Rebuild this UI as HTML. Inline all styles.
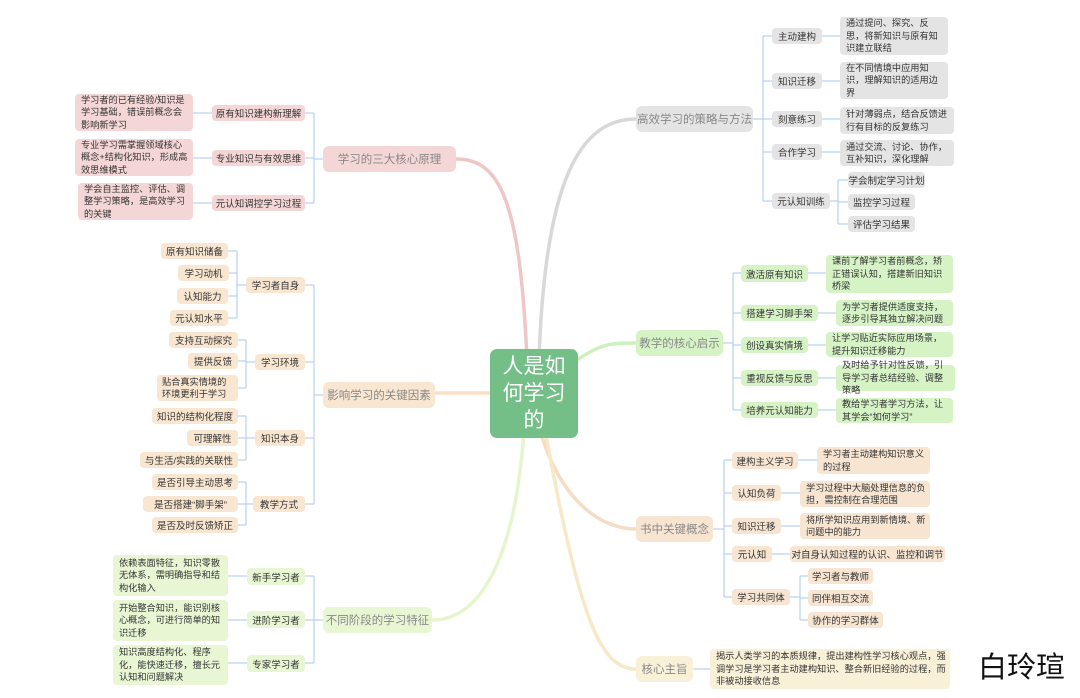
<!DOCTYPE html>
<html><head><meta charset="utf-8"><style>
body{margin:0;width:1080px;height:698px;background:#fff;position:relative;overflow:hidden;font-family:"Liberation Sans","Noto Sans CJK SC",sans-serif}
.n{position:absolute;display:flex;align-items:center;justify-content:center;border-radius:4px;font-size:9.5px;color:#333;white-space:nowrap;box-sizing:border-box}
.m{justify-content:flex-start;white-space:normal;padding:0 4px 0 6px;line-height:12.5px;font-size:9.2px}
.b{font-size:11.5px;color:#888;border-radius:6px}
.pk{background:#f5d6d6}.be{background:#f9e6d0}.lg{background:#e8f6d4}.gy{background:#e4e4e4}.gr{background:#d6f3c6}.bk{background:#f7e5d2}.co{background:#f9f0d8}
svg{position:absolute;left:0;top:0}
</style></head><body>
<svg width="1080" height="698" fill="none">
<g stroke-width="3.5" stroke-linecap="round">
<path d="M527 360 C520 200,500 159,456 159" stroke="#efc6c6"/>
<path d="M539 360 C545 180,580 119,636 119" stroke="#d8d8d8"/>
<path d="M570 365 C600 343,610 343,636 343" stroke="#ccf2bc"/>
<path d="M490 393 H435" stroke="#f7e0c6"/>
<path d="M524 430 C515 560,480 620,432 620" stroke="#e6f5cc"/>
<path d="M540 430 C560 500,600 529,636 529" stroke="#f5dcc4"/>
<path d="M545 430 C580 620,600 669,636 669" stroke="#f7e8c8"/>
</g>
<g stroke="#a8c8ef" stroke-width="1">
<path d="M753 119H763M763 36V201M763 36H772M763 81H772M763 119H772M763 152H772M763 201H772"/>
<path d="M822 36H840M822 81H840M822 119H840M822 152H840M830 201H838M838 180V224M838 180H848M838 202H848M838 224H848"/>
<path d="M723 343H733M733 273V410M733 273H741M733 313H741M733 345H741M733 378H741M733 410H741"/>
<path d="M808 273H826M818 313H836M808 345H826M818 378H836M818 410H836"/>
<path d="M713 529H724M724 460V597M724 460H732M724 493H732M724 526H732M724 554H732M724 597H732"/>
<path d="M798 460H817M781 493H800M781 526H800M772 554H790M790 597H800M800 576V620M800 576H808M800 598H808M800 620H808"/>
<path d="M693 669H710"/>
<path d="M323 159H314M314 113V203M314 113H305M314 158H305M314 203H305M212 113H193M212 158H193M212 203H193"/>
<path d="M323 395H314M314 285V504M314 285H305M314 362H305M314 438H305M314 504H305"/>
<path d="M246 285H237M237 251V318M237 251H228M237 273H229M237 296H228M237 318H228"/>
<path d="M255 362H246M246 340V388M246 340H238M246 361H238M246 388H238"/>
<path d="M255 438H246M246 416V460M246 416H238M246 438H238M246 460H238"/>
<path d="M253 504H246M246 482V525M246 482H238M246 504H238M246 525H238"/>
<path d="M323 620H314M314 576V663M314 576H305M314 620H305M314 663H305M247 576H228M247 620H228M247 663H228"/>
</g>
</svg>

<div class="n" style="left:490px;top:349px;width:88px;height:89px;background:#74be88;color:#fff;font-size:21px;line-height:27px;border-radius:7px;white-space:normal;text-align:center;padding:0 11px">人是如何学习的</div>

<div class="n b pk" style="left:323px;top:146px;width:133px;height:26px">学习的三大核心原理</div>
<div class="n b be" style="left:323px;top:382px;width:112px;height:26px">影响学习的关键因素</div>
<div class="n b lg" style="left:323px;top:607px;width:109px;height:26px">不同阶段的学习特征</div>
<div class="n b gy" style="left:636px;top:106px;width:117px;height:26px">高效学习的策略与方法</div>
<div class="n b gr" style="left:636px;top:330px;width:87px;height:26px">教学的核心启示</div>
<div class="n b bk" style="left:636px;top:516px;width:77px;height:26px">书中关键概念</div>
<div class="n b co" style="left:636px;top:656px;width:57px;height:26px">核心主旨</div>

<div class="n pk" style="left:212px;top:105px;width:93px;height:16px">原有知识建构新理解</div>
<div class="n pk" style="left:212px;top:150px;width:93px;height:16px">专业知识与有效思维</div>
<div class="n pk" style="left:212px;top:195px;width:93px;height:16px">元认知调控学习过程</div>
<div class="n m pk" style="left:75px;top:94px;width:118px;height:37px">学习者的已有经验/知识是学习基础，错误前概念会影响新学习</div>
<div class="n m pk" style="left:75px;top:139px;width:118px;height:37px">专业学习需掌握领域核心概念+结构化知识，形成高效思维模式</div>
<div class="n m pk" style="left:78px;top:183px;width:115px;height:37px">学会自主监控、评估、调整学习策略，是高效学习的关键</div>

<div class="n be" style="left:246px;top:277px;width:59px;height:16px">学习者自身</div>
<div class="n be" style="left:255px;top:354px;width:50px;height:16px">学习环境</div>
<div class="n be" style="left:255px;top:430px;width:50px;height:16px">知识本身</div>
<div class="n be" style="left:253px;top:496px;width:52px;height:16px">教学方式</div>
<div class="n be" style="left:161px;top:243px;width:67px;height:16px">原有知识储备</div>
<div class="n be" style="left:178px;top:265px;width:51px;height:16px">学习动机</div>
<div class="n be" style="left:177px;top:288px;width:51px;height:16px">认知能力</div>
<div class="n be" style="left:170px;top:310px;width:58px;height:16px">元认知水平</div>
<div class="n be" style="left:169px;top:332px;width:69px;height:16px">支持互动探究</div>
<div class="n be" style="left:188px;top:353px;width:50px;height:16px">提供反馈</div>
<div class="n m be" style="left:157px;top:375px;width:81px;height:26px;padding:0 5px">贴合真实情境的环境更利于学习</div>
<div class="n be" style="left:152px;top:408px;width:86px;height:16px">知识的结构化程度</div>
<div class="n be" style="left:187px;top:430px;width:51px;height:16px">可理解性</div>
<div class="n be" style="left:140px;top:452px;width:98px;height:16px">与生活/实践的关联性</div>
<div class="n be" style="left:152px;top:474px;width:86px;height:16px">是否引导主动思考</div>
<div class="n be" style="left:143px;top:496px;width:95px;height:16px">是否搭建“脚手架”</div>
<div class="n be" style="left:152px;top:517px;width:86px;height:16px">是否及时反馈矫正</div>

<div class="n lg" style="left:247px;top:568px;width:58px;height:17px">新手学习者</div>
<div class="n lg" style="left:247px;top:611px;width:58px;height:17px">进阶学习者</div>
<div class="n lg" style="left:247px;top:655px;width:58px;height:17px">专家学习者</div>
<div class="n m lg" style="left:113px;top:555px;width:115px;height:41px">依赖表面特征，知识零散无体系，需明确指导和结构化输入</div>
<div class="n m lg" style="left:113px;top:600px;width:115px;height:41px">开始整合知识，能识别核心概念，可进行简单的知识迁移</div>
<div class="n m lg" style="left:113px;top:645px;width:115px;height:40px">知识高度结构化、程序化，能快速迁移，擅长元认知和问题解决</div>

<div class="n gy" style="left:772px;top:28px;width:50px;height:16px">主动建构</div>
<div class="n gy" style="left:772px;top:73px;width:50px;height:16px">知识迁移</div>
<div class="n gy" style="left:772px;top:111px;width:50px;height:16px">刻意练习</div>
<div class="n gy" style="left:772px;top:144px;width:50px;height:16px">合作学习</div>
<div class="n gy" style="left:772px;top:193px;width:58px;height:16px">元认知训练</div>
<div class="n m gy" style="left:840px;top:17px;width:108px;height:38px">通过提问、探究、反思，将新知识与原有知识建立联结</div>
<div class="n m gy" style="left:840px;top:62px;width:108px;height:37px">在不同情境中应用知识，理解知识的适用边界</div>
<div class="n m gy" style="left:840px;top:107px;width:114px;height:27px">针对薄弱点，结合反馈进行有目标的反复练习</div>
<div class="n m gy" style="left:840px;top:140px;width:114px;height:26px">通过交流、讨论、协作，互补知识，深化理解</div>
<div class="n gy" style="left:848px;top:172px;width:77px;height:16px">学会制定学习计划</div>
<div class="n gy" style="left:848px;top:194px;width:67px;height:16px">监控学习过程</div>
<div class="n gy" style="left:848px;top:216px;width:67px;height:16px">评估学习结果</div>

<div class="n gr" style="left:741px;top:265px;width:67px;height:17px">激活原有知识</div>
<div class="n gr" style="left:741px;top:305px;width:77px;height:16px">搭建学习脚手架</div>
<div class="n gr" style="left:741px;top:337px;width:67px;height:16px">创设真实情境</div>
<div class="n gr" style="left:741px;top:370px;width:77px;height:16px">重视反馈与反思</div>
<div class="n gr" style="left:741px;top:402px;width:77px;height:16px">培养元认知能力</div>
<div class="n m gr" style="left:826px;top:255px;width:127px;height:38px">课前了解学习者前概念，矫正错误认知，搭建新旧知识桥梁</div>
<div class="n m gr" style="left:836px;top:300px;width:117px;height:26px">为学习者提供适度支持，逐步引导其独立解决问题</div>
<div class="n m gr" style="left:826px;top:332px;width:127px;height:25px">让学习贴近实际应用场景，提升知识迁移能力</div>
<div class="n m gr" style="left:836px;top:365px;width:119px;height:26px">及时给予针对性反馈，引导学习者总结经验、调整策略</div>
<div class="n m gr" style="left:836px;top:398px;width:117px;height:25px">教给学习者学习方法，让其学会“如何学习”</div>

<div class="n bk" style="left:732px;top:452px;width:66px;height:17px">建构主义学习</div>
<div class="n bk" style="left:732px;top:485px;width:49px;height:16px">认知负荷</div>
<div class="n bk" style="left:732px;top:518px;width:49px;height:16px">知识迁移</div>
<div class="n bk" style="left:732px;top:546px;width:40px;height:16px">元认知</div>
<div class="n bk" style="left:732px;top:589px;width:58px;height:16px">学习共同体</div>
<div class="n m bk" style="left:817px;top:447px;width:113px;height:27px">学习者主动建构知识意义的过程</div>
<div class="n m bk" style="left:800px;top:481px;width:130px;height:26px">学习过程中大脑处理信息的负担，需控制在合理范围</div>
<div class="n m bk" style="left:800px;top:513px;width:130px;height:26px">将所学知识应用到新情境、新问题中的能力</div>
<div class="n bk" style="left:790px;top:546px;width:155px;height:16px">对自身认知过程的认识、监控和调节</div>
<div class="n bk" style="left:808px;top:568px;width:65px;height:16px">学习者与教师</div>
<div class="n bk" style="left:808px;top:590px;width:65px;height:16px">同伴相互交流</div>
<div class="n bk" style="left:808px;top:612px;width:75px;height:16px">协作的学习群体</div>

<div class="n m co" style="left:710px;top:649px;width:240px;height:40px">揭示人类学习的本质规律，提出建构性学习核心观点，强调学习是学习者主动建构知识、整合新旧经验的过程，而非被动接收信息</div>

<div style="position:absolute;left:978px;top:644px;font-size:29px;color:#111;font-family:'Liberation Sans','Noto Sans CJK SC',sans-serif">白玲瑄</div>
</body></html>
